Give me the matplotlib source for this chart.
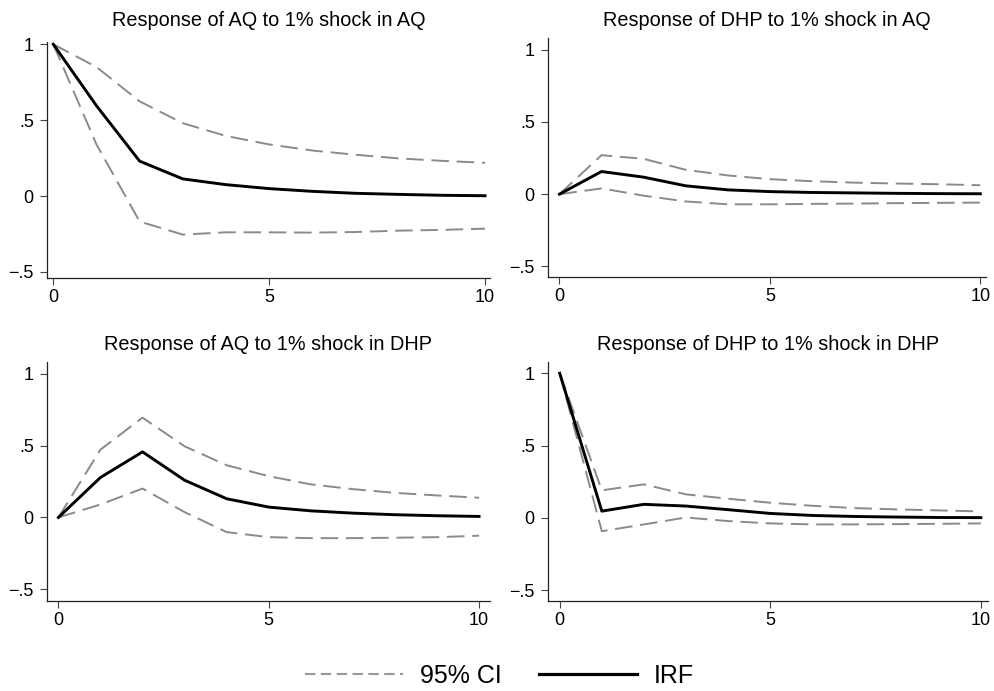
import matplotlib
matplotlib.use("Agg")
import matplotlib.pyplot as plt
from matplotlib.lines import Line2D

plt.rcParams["font.family"] = ["Liberation Sans", "DejaVu Sans"]

# horizon steps
steps = list(range(11))

# Response of AQ to 1% shock in AQ
aq_aq_irf = [1, 0.595, 0.23, 0.113, 0.075, 0.049, 0.031, 0.018, 0.011, 0.005, 0.002]
aq_aq_hi = [1, 0.85, 0.624, 0.48, 0.396, 0.34, 0.30, 0.272, 0.248, 0.232, 0.219]
aq_aq_lo = [1, 0.34, -0.168, -0.254, -0.239, -0.239, -0.241, -0.237, -0.228, -0.223, -0.215]

# Response of DHP to 1% shock in AQ
dhp_aq_irf = [0, 0.157, 0.118, 0.058, 0.030, 0.018, 0.012, 0.009, 0.006, 0.004, 0.003]
dhp_aq_hi = [0, 0.27, 0.245, 0.169, 0.13, 0.104, 0.09, 0.08, 0.074, 0.069, 0.062]
dhp_aq_lo = [0, 0.04, -0.01, -0.05, -0.07, -0.07, -0.067, -0.065, -0.062, -0.06, -0.058]

# Response of AQ to 1% shock in DHP
aq_dhp_irf = [0, 0.278, 0.456, 0.259, 0.13, 0.072, 0.046, 0.03, 0.019, 0.012, 0.007]
aq_dhp_hi = [0, 0.472, 0.694, 0.495, 0.363, 0.287, 0.23, 0.197, 0.171, 0.153, 0.137]
aq_dhp_lo = [0, 0.09, 0.201, 0.037, -0.102, -0.137, -0.144, -0.144, -0.141, -0.137, -0.127]

# Response of DHP to 1% shock in DHP
dhp_dhp_irf = [1, 0.046, 0.093, 0.081, 0.056, 0.03, 0.016, 0.009, 0.005, 0.002, 0.001]
dhp_dhp_hi = [1, 0.19, 0.231, 0.162, 0.132, 0.104, 0.083, 0.067, 0.058, 0.051, 0.044]
dhp_dhp_lo = [1, -0.093, -0.046, 0.002, -0.023, -0.039, -0.046, -0.046, -0.044, -0.042, -0.039]

titles = [
    "Response of AQ to 1% shock in AQ",
    "Response of DHP to 1% shock in AQ",
    "Response of AQ to 1% shock in DHP",
    "Response of DHP to 1% shock in DHP",
]
series = [
    (aq_aq_irf, aq_aq_lo, aq_aq_hi),
    (dhp_aq_irf, dhp_aq_lo, dhp_aq_hi),
    (aq_dhp_irf, aq_dhp_lo, aq_dhp_hi),
    (dhp_dhp_irf, dhp_dhp_lo, dhp_dhp_hi),
]
y_ticks = [-0.5, 0, 0.5, 1]
y_tick_labels = ["\u2212.5", "0", ".5", "1"]
x_ticks = [0, 5, 10]

W, H = 994, 691
fig = plt.figure(figsize=(W / 100, H / 100), dpi=100)

# panel boxes in pixels (left, right, top, bottom) and data limits
boxes = [(47, 490, 42, 278), (548, 986, 38, 277), (47, 490, 362, 601), (548, 988, 362, 601)]
xlims = [(-0.146, 10.116), (-0.271, 10.135), (-0.271, 10.26), (-0.278, 10.17)]
ylims = [(-0.54, 1.015), (-0.573, 1.081), (-0.581, 1.081), (-0.576, 1.078)]
title_base = [26, 26, 350.5, 350.5]

ci_color = "#8a8a8a"

for i in range(4):
    l, r, t, b = boxes[i]
    ax = fig.add_axes([l / W, (H - b) / H, (r - l) / W, (b - t) / H])
    irf, lo, hi = series[i]
    ax.plot(steps, hi, color=ci_color, lw=1.4, dashes=(9, 4), solid_capstyle="butt")
    ax.plot(steps, lo, color=ci_color, lw=1.4, dashes=(9, 4), solid_capstyle="butt")
    ax.plot(steps, irf, color="black", lw=2.1, solid_joinstyle="round")
    ax.set_xlim(*xlims[i])
    ax.set_ylim(*ylims[i])
    ax.set_xticks(x_ticks)
    ax.set_yticks(y_ticks)
    ax.set_yticklabels(y_tick_labels)
    for side in ["top", "right"]:
        ax.spines[side].set_visible(False)
    for side in ["left", "bottom"]:
        ax.spines[side].set_linewidth(0.9)
        ax.spines[side].set_color("#222222")
    ax.tick_params(axis="both", direction="out", length=5, width=0.8,
                   color="#444444", labelsize=13)
    ax.tick_params(axis="y", pad=4.5)
    ax.tick_params(axis="x", pad=3)
    fig.text((l + r) / 2 / W, (H - title_base[i]) / H, titles[i],
             ha="center", va="baseline", fontsize=14.3)

handles = [
    Line2D([], [], color="#999999", lw=1.5, dashes=(5, 2.6)),
    Line2D([], [], color="black", lw=2.3),
]
fig.legend(handles, ["95% CI", "IRF"], loc="center", bbox_to_anchor=(0.5025, 0.022),
           ncol=2, frameon=False, fontsize=18, handlelength=3.9,
           handletextpad=0.68, columnspacing=1.5)

fig.savefig("out.png", dpi=100)
